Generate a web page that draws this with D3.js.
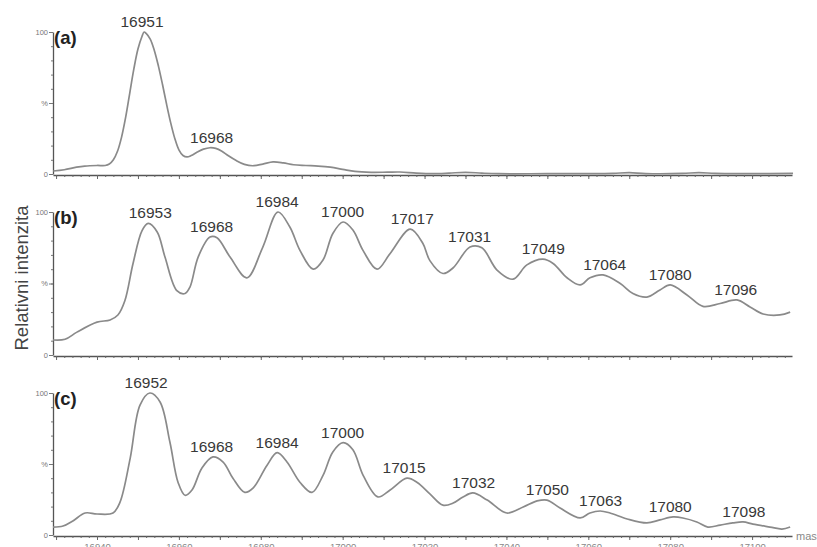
<!DOCTYPE html>
<html>
<head>
<meta charset="utf-8">
<script src="https://cdn.jsdelivr.net/npm/d3@7/dist/d3.min.js"></script>
<style>
  body { margin: 0; background: #fff; }
  svg { display: block; font-family: "Liberation Sans", Arial, sans-serif; }
</style>
</head>
<body>
<div id="vis"></div>
<script>
const FRAME_WIDTH = 817;
const FRAME_HEIGHT = 547;

// spectrum (a)
const massA = [16929.3, 16932, 16935, 16937, 16940, 16942, 16943, 16944, 16945, 16946, 16947, 16948, 16949, 16950, 16951, 16951.5,
  16952, 16953, 16954, 16955, 16956, 16957, 16958, 16959, 16960, 16961, 16962, 16963, 16964.5, 16966, 16967.6, 16969, 16970.5,
  16972, 16974, 16976, 16978, 16980.5, 16983, 16985.5, 16988, 16991, 16994, 16997, 17000, 17003, 17007, 17011, 17014, 17018,
  17022, 17026, 17030, 17034, 17038, 17050, 17060, 17066, 17070, 17074, 17083, 17087, 17091, 17100, 17110];
const intA = [2.1, 3, 4.8, 5.6, 6, 6, 7, 10, 16, 26, 40, 57, 74, 88, 97, 100,
  99, 95, 87, 76, 63, 49, 36, 25, 17, 13, 12, 13, 15.5, 17.5, 18.5, 18, 16,
  13, 9.5, 6.8, 5.8, 7, 8.5, 7.8, 6.5, 6, 5.6, 4.8, 3.3, 1.8, 1.2, 1.3, 1.4, 0.6,
  0.2, 0.6, 1.2, 0.6, 0.2, 0.2, 0.2, 0.4, 1, 0.3, 0.4, 1, 0.4, 0.2, 0.4];

// spectrum (b)
const massB = [16929.25, 16932.2, 16935.1, 16940, 16943.2, 16945.1, 16946.8, 16948.8, 16951, 16952.5, 16954.7, 16956.6, 16959.5,
  16961.5, 16962.7, 16964.7, 16967.6, 16969.3, 16972.5, 16976.6, 16980.5, 16984.2, 16987.1, 16989.6, 16992.8, 16995.2, 16997.6,
  17000.1, 17002.5, 17005, 17008.4, 17011.6, 17016.5, 17019.6, 17021.3, 17024.5, 17027, 17031.1, 17034, 17037.7, 17041.6, 17045,
  17048.9, 17051.4, 17054.8, 17058, 17060.4, 17063.6, 17067.8, 17070.9, 17074.3, 17077.5, 17080, 17084.1, 17088, 17092.2, 17096.3,
  17099.5, 17102.7, 17106.8, 17109.3];
const intB = [10.5, 11, 16, 23, 24.5, 28, 38, 64, 87, 92, 86, 68.5, 45,
  43, 47.5, 68.5, 82.5, 82, 68.5, 54, 75.5, 100, 89.5, 73, 60, 66.4, 85,
  93, 87.4, 73, 60, 71, 88, 78, 66, 57, 61, 75.5, 75, 59.4, 53, 63,
  67, 64, 54, 49, 54, 56, 50, 43, 40.5, 45.5, 49, 42, 34, 36, 38.5,
  33.6, 28.7, 28, 30];

// spectrum (c)
const massC = [16929.25, 16931.7, 16934.1, 16937.1, 16940, 16943.9, 16945.6, 16948.1, 16950.5, 16952.9, 16955.4, 16957.8, 16959.8,
  16961.5, 16963.2, 16965.6, 16968.3, 16970.8, 16973.2, 16976.1, 16978.1, 16981.5, 16984, 16986.4, 16989.6, 16992.5, 16995.2,
  16997.6, 17000.1, 17002.5, 17005, 17008.6, 17011.6, 17015.7, 17018.2, 17021.3, 17024.5, 17027, 17029.4, 17031.8, 17035.3,
  17040.1, 17044.1, 17047.5, 17049.9, 17053.1, 17058, 17060.4, 17062.9, 17065.3, 17069.5, 17074.3, 17077.5, 17080.7, 17083.1,
  17086.5, 17089.2, 17092.2, 17095.3, 17097.8, 17100.2, 17104.4, 17107.3, 17109.3];
const intC = [5.6, 6.3, 9.9, 15.5, 14.8, 15.5, 23, 54, 91.5, 100, 93.7, 65.5, 37,
  28, 31.7, 47, 55, 51.4, 40, 30, 33, 49, 58, 51.4, 37, 30, 42,
  58.5, 65, 60, 42, 26.8, 31.7, 40, 37, 29, 21, 22.5, 26.8, 29.6, 24.6,
  15.5, 19.7, 24, 24.6, 19, 12, 15.5, 16.9, 15.5, 11.3, 8.5, 10.6, 12.7, 12,
  9.2, 5.6, 7, 8.5, 9.2, 7.7, 5.6, 4.2, 5.6];

// peak labels
const peaksA = [16951, 16968];
const peakIntA = [100, 18.5];
const peaksB = [16953, 16968, 16984, 17000, 17017, 17031, 17049, 17064, 17080, 17096];
const peakIntB = [92, 82.5, 100, 93, 88, 75.5, 67, 56, 49, 38.5];
const peaksC = [16952, 16968, 16984, 17000, 17015, 17032, 17050, 17063, 17080, 17098];
const peakIntC = [100, 55, 58, 65, 40, 29.6, 24.6, 16.9, 12.7, 9.2];

const panelNames = ['(a)', '(b)', '(c)'];
const massTicks = [16940, 16960, 16980, 17000, 17020, 17040, 17060, 17080, 17100];

const svg = d3.select('#vis')
  .append('svg')
    .attr('width', FRAME_WIDTH)
    .attr('height', FRAME_HEIGHT);

const X_SCALE = d3.scaleLinear()
  .domain([16929.25, 17109.75])
  .range([53, 792]);

const panels = [
  { mass: massA, val: intA, peaks: peaksA, peakVal: peakIntA, y0: 174, y100: 32 },
  { mass: massB, val: intB, peaks: peaksB, peakVal: peakIntB, y0: 355, y100: 212 },
  { mass: massC, val: intC, peaks: peaksC, peakVal: peakIntC, y0: 535, y100: 393 }
];

panels.forEach(function(p, i) {
  let y = d3.scaleLinear().domain([0, 100]).range([p.y0, p.y100]);
  let last = (i === panels.length - 1);

  // minor x ticks
  svg.append('g')
    .attr('transform', 'translate(0,' + (p.y0 + 1) + ')')
    .call(d3.axisBottom(X_SCALE)
      .tickValues(d3.range(16930, 17110, 2))
      .tickSize(2).tickSizeOuter(0).tickFormat(''))
    .call(g => g.select('.domain').attr('stroke', '#555').attr('stroke-width', 1.3))
    .call(g => g.selectAll('.tick line').attr('stroke', '#666'));

  // major x ticks
  svg.append('g')
    .attr('transform', 'translate(0,' + (p.y0 + 1) + ')')
    .call(d3.axisBottom(X_SCALE)
      .tickValues(d3.range(16930, 17110, 10))
      .tickSize(4).tickSizeOuter(0)
      .tickPadding(3)
      .tickFormat(d => (last && massTicks.includes(d)) ? d : ''))
    .call(g => g.select('.domain').remove())
    .call(g => g.selectAll('.tick line').attr('stroke', '#666'))
    .call(g => g.selectAll('.tick text').attr('fill', '#888').attr('font-size', '9.5px'));

  // y axis
  svg.append('g')
    .attr('transform', 'translate(53,0)')
    .call(d3.axisLeft(y)
      .tickValues(d3.range(0, 101, 10))
      .tickSize(2).tickSizeOuter(0).tickFormat(''))
    .call(g => g.select('.domain').attr('stroke', '#555').attr('stroke-width', 1.3))
    .call(g => g.selectAll('.tick line').attr('stroke', '#777'));

  svg.append('g')
    .attr('transform', 'translate(53,0)')
    .call(d3.axisLeft(y)
      .tickValues([0, 50, 100])
      .tickSize(4).tickPadding(1).tickSizeOuter(0)
      .tickFormat(d => d === 50 ? '%' : d))
    .call(g => g.select('.domain').remove())
    .call(g => g.selectAll('.tick line').attr('stroke', '#777'))
    .call(g => g.selectAll('.tick text').attr('fill', '#777').attr('font-size', '7.5px'));

  // spectrum line
  svg.append('path')
    .datum(d3.zip(p.mass, p.val))
    .attr('fill', 'none')
    .attr('stroke', '#8a8a8a')
    .attr('stroke-width', 1.7)
    .attr('stroke-linejoin', 'round')
    .attr('d', d3.line()
      .x(d => X_SCALE(d[0]))
      .y(d => y(d[1]))
      .curve(d3.curveCatmullRom.alpha(0.5)));

  // peak labels
  svg.append('g')
    .selectAll('text')
    .data(d3.zip(p.peaks, p.peakVal))
    .enter()
    .append('text')
      .attr('x', d => X_SCALE(d[0]))
      .attr('y', d => y(d[1]) - 5)
      .attr('text-anchor', 'middle')
      .attr('font-size', '15.5px')
      .attr('fill', '#383838')
      .text(d => d[0]);

  // panel label
  svg.append('text')
    .attr('x', 54)
    .attr('y', p.y100 + 12)
    .attr('font-size', '18.5px')
    .attr('font-weight', 'bold')
    .attr('fill', '#222')
    .text(panelNames[i]);
});

// x axis name
svg.append('text')
  .attr('x', 796)
  .attr('y', 540)
  .attr('font-size', '11px')
  .attr('fill', '#888')
  .text('mass');

// y axis name
svg.append('text')
  .attr('transform', 'translate(28,278) rotate(-90)')
  .attr('text-anchor', 'middle')
  .attr('font-size', '18.5px')
  .attr('fill', '#444')
  .text('Relativni intenzita');
</script>
</body>
</html>
